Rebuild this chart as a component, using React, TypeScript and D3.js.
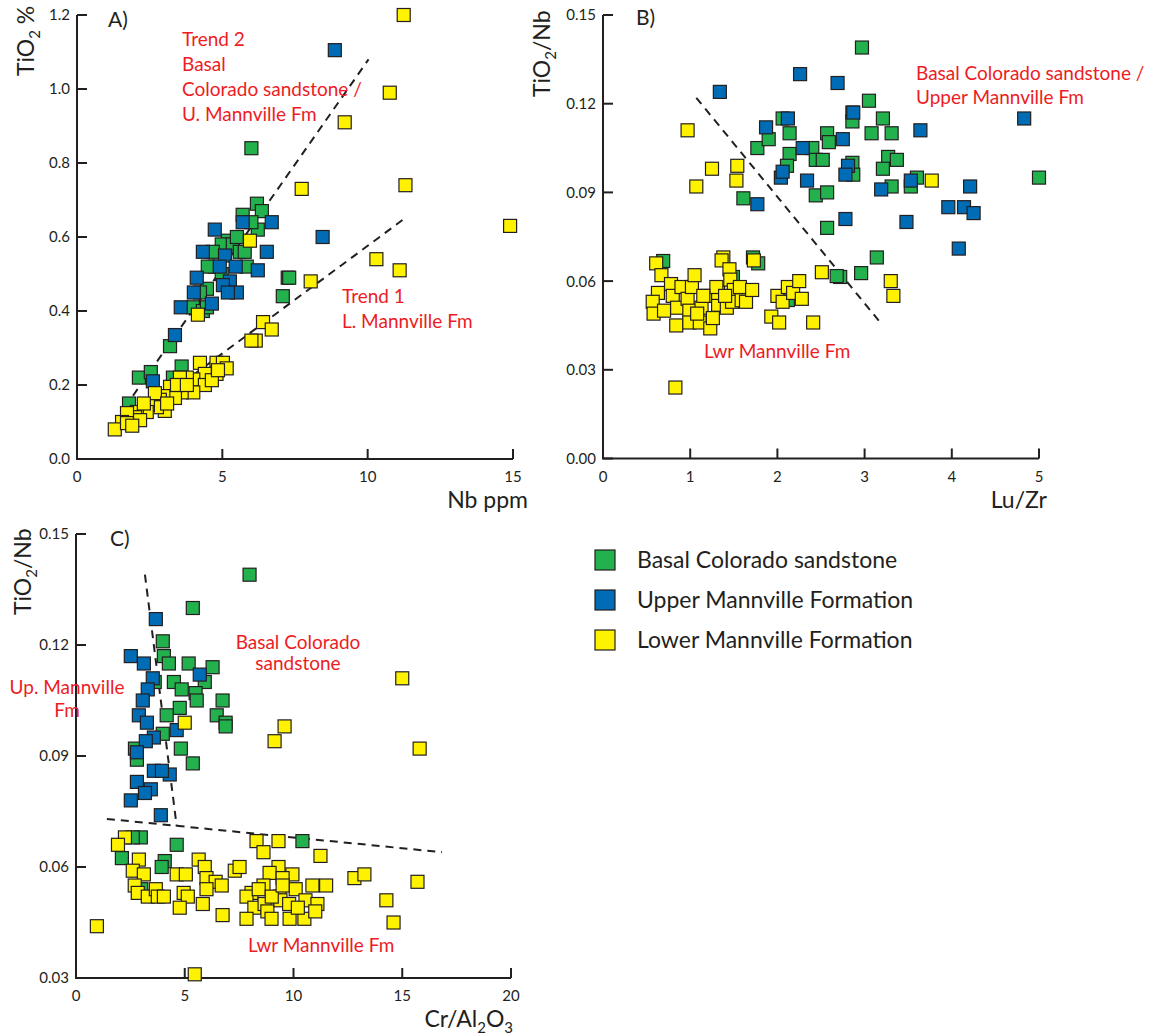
import React, { useEffect, useRef } from "react";
import * as d3 from "d3";

const GREEN = "#22b14c";
const BLUE = "#006cb5";
const YELLOW = "#fff200";
const INK = "#231f20";
const RED = "#ed1c24";
const FONT = "Lato, 'Noto Sans', sans-serif";

const seriesNames = [
  "Basal Colorado sandstone",
  "Upper Mannville Formation",
  "Lower Mannville Formation",
];
const seriesColors = [GREEN, BLUE, YELLOW];

// A) Nb ppm vs TiO2 %
const aGreen = [
  [6.0, 0.84], [6.19, 0.69], [6.36, 0.67], [5.7, 0.66], [6.22, 0.62], [5.19, 0.59],
  [4.98, 0.58], [5.36, 0.58], [4.67, 0.56], [5.6, 0.56], [5.77, 0.56], [4.74, 0.52],
  [5.84, 0.52], [4.98, 0.5], [4.47, 0.46], [7.25, 0.49], [7.3, 0.49], [7.08, 0.44],
  [3.99, 0.41], [4.33, 0.4], [3.2, 0.305], [2.13, 0.22], [2.54, 0.235], [3.6, 0.25],
  [1.79, 0.15], [5.5, 0.6], [6.0, 0.64], [4.5, 0.52], [3.3, 0.22], [4.47, 0.41],
  [4.23, 0.45],
];
const aBlue = [
  [5.7, 0.64], [6.7, 0.64], [4.74, 0.62], [4.33, 0.56], [6.53, 0.56], [5.09, 0.55],
  [4.91, 0.52], [5.46, 0.52], [6.22, 0.51], [5.26, 0.48], [4.12, 0.49], [5.02, 0.47],
  [5.5, 0.45], [5.19, 0.45], [4.02, 0.45], [4.64, 0.42], [3.57, 0.41], [3.37, 0.335],
  [2.61, 0.21], [8.87, 1.105], [8.45, 0.6],
];
const aYellow = [
  [11.24, 1.2], [10.76, 0.99], [9.21, 0.91], [11.3, 0.74], [7.73, 0.73], [14.9, 0.63],
  [5.95, 0.59], [10.3, 0.54], [11.1, 0.51], [8.04, 0.48], [6.4, 0.37], [6.7, 0.35],
  [6.15, 0.32], [6.0, 0.32], [4.16, 0.39],
  [4.23, 0.26], [4.8, 0.26], [5.02, 0.26], [5.15, 0.245], [4.8, 0.23], [4.4, 0.23],
  [4.0, 0.215], [3.78, 0.22], [3.54, 0.22], [4.4, 0.2], [4.0, 0.18], [3.6, 0.18],
  [3.2, 0.195], [3.37, 0.165], [2.97, 0.17], [2.85, 0.16], [3.02, 0.13], [2.75, 0.14],
  [2.44, 0.145], [2.4, 0.127], [2.06, 0.127], [2.0, 0.113], [1.72, 0.124], [1.55, 0.1],
  [1.3, 0.08], [1.72, 0.097], [2.17, 0.105], [3.44, 0.2], [3.78, 0.2], [4.64, 0.213],
  [4.85, 0.24], [2.68, 0.178], [1.9, 0.09], [2.3, 0.15], [3.1, 0.15],
];
const aTrend2 = [[1.65, 0.14], [10.03, 1.08]];
const aTrend1 = [[1.3, 0.07], [11.2, 0.646]];
const aXTicks = [0, 5, 10, 15];
const aYTicks = [0, 0.2, 0.4, 0.6, 0.8, 1.0, 1.2];

// B) Lu/Zr vs TiO2/Nb
const bGreen = [
  [2.97, 0.139], [1.77, 0.105], [1.9, 0.108], [2.06, 0.115], [2.14, 0.11], [2.14, 0.103],
  [2.11, 0.099], [2.4, 0.105], [2.44, 0.101], [2.52, 0.101], [2.44, 0.089], [2.57, 0.09],
  [2.57, 0.11], [2.59, 0.107], [2.57, 0.078], [1.61, 0.088], [2.86, 0.117], [2.86, 0.114],
  [2.86, 0.1], [2.87, 0.096], [3.05, 0.121], [3.21, 0.115], [3.08, 0.11], [3.31, 0.11],
  [3.27, 0.102], [3.37, 0.101], [3.21, 0.098], [3.31, 0.092], [3.6, 0.095], [3.53, 0.092],
  [5.0, 0.095], [3.14, 0.068], [2.96, 0.0627], [2.72, 0.0614], [2.68, 0.0617],
  [0.69, 0.0668], [1.72, 0.068], [1.78, 0.066], [1.49, 0.0614], [2.12, 0.0536],
];
const bBlue = [
  [1.34, 0.124], [2.26, 0.13], [2.69, 0.127], [1.77, 0.086], [1.87, 0.112], [2.12, 0.115],
  [2.04, 0.095], [2.06, 0.097], [2.29, 0.105], [2.34, 0.094], [2.75, 0.108], [2.78, 0.081],
  [2.87, 0.117], [2.81, 0.099], [2.78, 0.096], [3.64, 0.111], [3.19, 0.091], [3.53, 0.094],
  [4.21, 0.092], [3.96, 0.085], [4.14, 0.085], [4.25, 0.083], [3.48, 0.08], [4.08, 0.071],
  [4.83, 0.115],
];
const bYellow = [
  [0.97, 0.111], [1.25, 0.098], [1.07, 0.092], [1.54, 0.099], [1.53, 0.094], [3.77, 0.094],
  [3.3, 0.06], [3.33, 0.055], [2.51, 0.063], [0.83, 0.024],
  [0.61, 0.066], [0.67, 0.062], [0.78, 0.059], [0.63, 0.056], [0.57, 0.053], [0.58, 0.049],
  [0.7, 0.05], [0.8, 0.055], [0.85, 0.051], [0.84, 0.045], [0.9, 0.058], [0.97, 0.054],
  [1.02, 0.058], [1.05, 0.062], [0.99, 0.05], [0.99, 0.046], [1.11, 0.046], [1.13, 0.051],
  [1.19, 0.055], [1.23, 0.044], [1.26, 0.0475], [1.32, 0.052], [1.32, 0.056], [1.3, 0.058],
  [1.38, 0.068], [1.36, 0.067], [1.45, 0.064], [1.46, 0.0605], [1.5, 0.057], [1.42, 0.051],
  [1.48, 0.053], [1.57, 0.058], [1.59, 0.0535], [1.64, 0.053], [1.71, 0.057], [1.73, 0.067],
  [2.0, 0.055], [2.06, 0.053], [2.12, 0.058], [2.18, 0.056], [2.25, 0.06], [2.28, 0.054],
  [1.93, 0.048], [2.02, 0.046], [2.41, 0.046], [1.15, 0.055], [1.08, 0.049], [1.4, 0.055],
];
const bDivide = [[1.07, 0.122], [3.18, 0.046]];
const bXTicks = [0, 1, 2, 3, 4, 5];
const bYTicks = [0, 0.03, 0.06, 0.09, 0.12, 0.15];

// C) Cr/Al2O3 vs TiO2/Nb
const cGreen = [
  [7.98, 0.139], [5.37, 0.13], [3.99, 0.121], [4.04, 0.117], [4.27, 0.115], [5.18, 0.115],
  [6.28, 0.114], [5.92, 0.11], [4.5, 0.11], [4.86, 0.108], [5.5, 0.107], [5.55, 0.105],
  [6.74, 0.105], [4.77, 0.103], [4.17, 0.101], [6.47, 0.101], [6.88, 0.099], [6.88, 0.098],
  [3.99, 0.096], [2.71, 0.092], [4.82, 0.092], [5.37, 0.088], [2.8, 0.089], [2.98, 0.068],
  [2.61, 0.068], [4.63, 0.066], [2.11, 0.0624], [4.08, 0.0616], [3.94, 0.06], [10.41, 0.067],
  [3.0, 0.054], [3.62, 0.11],
];
const cBlue = [
  [3.67, 0.127], [2.52, 0.117], [3.12, 0.115], [5.69, 0.112], [3.53, 0.111], [3.3, 0.108],
  [3.07, 0.105], [2.89, 0.101], [3.26, 0.099], [4.63, 0.097], [3.58, 0.095], [3.21, 0.094],
  [2.8, 0.091], [3.58, 0.086], [4.31, 0.085], [2.8, 0.083], [3.44, 0.081], [3.17, 0.08],
  [2.52, 0.078], [3.9, 0.074], [3.95, 0.086],
];
const cYellow = [
  [5.0, 0.099], [9.13, 0.094], [9.59, 0.098], [15.0, 0.111], [15.8, 0.092],
  [2.25, 0.068], [1.93, 0.066], [2.89, 0.062], [2.61, 0.059], [3.12, 0.058], [4.63, 0.058],
  [5.05, 0.058], [5.64, 0.062], [5.92, 0.06], [6.0, 0.057], [6.42, 0.056], [6.7, 0.055],
  [6.0, 0.054], [2.7, 0.055], [2.84, 0.053], [3.3, 0.052], [3.67, 0.054], [3.76, 0.052],
  [4.04, 0.052], [4.95, 0.053], [5.14, 0.052], [5.83, 0.05], [4.77, 0.049], [6.74, 0.047],
  [7.3, 0.059], [7.52, 0.06], [8.3, 0.067], [8.62, 0.064], [9.31, 0.067], [11.24, 0.063],
  [9.31, 0.06], [8.9, 0.0584], [9.95, 0.058], [9.5, 0.057], [8.62, 0.055], [8.07, 0.053],
  [7.84, 0.052], [8.4, 0.054], [8.2, 0.049], [8.67, 0.05], [8.8, 0.048], [9.36, 0.052],
  [9.4, 0.051], [10.1, 0.054], [10.55, 0.051], [11.1, 0.05], [11.5, 0.055], [10.87, 0.055],
  [7.84, 0.046], [8.99, 0.046], [9.82, 0.046], [10.5, 0.046], [11.0, 0.048], [0.96, 0.044],
  [5.46, 0.031], [12.8, 0.057], [13.26, 0.058], [15.7, 0.056], [14.27, 0.051], [14.6, 0.045],
  [9.0, 0.052], [9.8, 0.05], [10.2, 0.049], [9.5, 0.055],
];
const cDivideV = [[3.17, 0.139], [4.63, 0.071]];
const cDivideH = [[1.42, 0.073], [16.83, 0.064]];
const cXTicks = [0, 5, 10, 15, 20];
const cYTicks = [0.03, 0.06, 0.09, 0.12, 0.15];

const drawPanel = (svg, p) => {
  const x = d3.scaleLinear().domain(p.xDomain).range(p.xRange);
  const y = d3.scaleLinear().domain(p.yDomain).range(p.yRange);
  const g = svg.append("g");
  const [x0, x1] = p.xRange;
  const [y0, y1] = p.yRange;

  g.append("path")
    .attr("d", `M${x0},${y1}V${y0}H${x1}`)
    .attr("fill", "none")
    .attr("stroke", INK)
    .attr("stroke-width", 2);

  g.selectAll(".yt")
    .data(p.yTicks)
    .enter()
    .append("line")
    .attr("x1", x0)
    .attr("x2", x0 + 10)
    .attr("y1", (d) => y(d))
    .attr("y2", (d) => y(d))
    .attr("stroke", INK)
    .attr("stroke-width", 2);
  g.selectAll(".ytl")
    .data(p.yTicks)
    .enter()
    .append("text")
    .attr("x", x0 - 7)
    .attr("y", (d) => y(d))
    .attr("dy", "0.36em")
    .attr("text-anchor", "end")
    .style("font-family", FONT)
    .style("font-size", "15px")
    .attr("fill", INK)
    .text((d) => d3.format(p.yFormat)(d));

  g.selectAll(".xt")
    .data(p.xTicks)
    .enter()
    .append("line")
    .attr("x1", (d) => x(d))
    .attr("x2", (d) => x(d))
    .attr("y1", y0)
    .attr("y2", y0 - 10)
    .attr("stroke", INK)
    .attr("stroke-width", 2);
  g.selectAll(".xtl")
    .data(p.xTicks)
    .enter()
    .append("text")
    .attr("x", (d) => x(d))
    .attr("y", y0 + 23)
    .attr("text-anchor", "middle")
    .style("font-family", FONT)
    .style("font-size", "15px")
    .attr("fill", INK)
    .text((d) => d);

  const line = d3
    .line()
    .x((d) => x(d[0]))
    .y((d) => y(d[1]));
  p.lines.forEach((l) => {
    g.append("path")
      .datum(l)
      .attr("d", line)
      .attr("fill", "none")
      .attr("stroke", INK)
      .attr("stroke-width", 2)
      .attr("stroke-dasharray", "8,6");
  });

  const s = 13;
  p.series.forEach((pts, i) => {
    g.append("g")
      .selectAll("rect")
      .data(pts)
      .enter()
      .append("rect")
      .attr("x", (d) => x(d[0]) - s / 2)
      .attr("y", (d) => y(d[1]) - s / 2)
      .attr("width", s)
      .attr("height", s)
      .attr("fill", seriesColors[i])
      .attr("stroke", INK)
      .attr("stroke-width", 1.2);
  });

  g.append("text")
    .attr("x", p.letter[1])
    .attr("y", p.letter[2])
    .style("font-family", FONT)
    .style("font-size", "21px")
    .attr("fill", INK)
    .text(p.letter[0]);

  // y axis title, rotated
  const yt = g
    .append("text")
    .attr("transform", `translate(${p.yTitlePos[0]},${p.yTitlePos[1]}) rotate(-90)`)
    .style("font-family", FONT)
    .style("font-size", "23px")
    .attr("fill", INK);
  yt.append("tspan").text("TiO");
  yt.append("tspan").attr("dy", 6).style("font-size", "15px").text("2");
  yt.append("tspan").attr("dy", -6).text(p.yTitleRest);

  const xt = g
    .append("text")
    .attr("x", p.xTitlePos[0])
    .attr("y", p.xTitlePos[1])
    .attr("text-anchor", "end")
    .style("font-family", FONT)
    .style("font-size", "23px")
    .attr("fill", INK);
  p.xTitle.forEach((part) => {
    const t = xt.append("tspan").text(part[0]);
    if (part[1]) t.attr("dy", part[1]);
    if (part[2]) t.style("font-size", part[2]);
  });

  p.notes.forEach((n) => {
    n.lines.forEach((txt, k) => {
      g.append("text")
        .attr("x", n.x)
        .attr("y", n.y + k * n.step)
        .attr("text-anchor", n.anchor || "start")
        .style("font-family", FONT)
        .style("font-size", "19px")
        .attr("fill", RED)
        .text(txt);
    });
  });
};

const App = () => {
  const ref = useRef(null);

  useEffect(() => {
    const svg = d3.select(ref.current);
    svg.selectAll("*").remove();

    drawPanel(svg, {
      xDomain: [0, 15],
      xRange: [77, 513],
      yDomain: [0, 1.2],
      yRange: [459, 15],
      xTicks: aXTicks,
      yTicks: aYTicks,
      yFormat: ".1f",
      series: [aGreen, aBlue, aYellow],
      lines: [aTrend2, aTrend1],
      letter: ["A)", 108, 27],
      yTitlePos: [34, 76],
      yTitleRest: " %",
      xTitle: [["Nb ppm"]],
      xTitlePos: [528, 508],
      notes: [
        { x: 182, y: 46, step: 25, lines: ["Trend 2", "Basal", "Colorado sandstone /", "U. Mannville Fm"] },
        { x: 342, y: 303, step: 25, lines: ["Trend 1", "L. Mannville Fm"] },
      ],
    });

    drawPanel(svg, {
      xDomain: [0, 5],
      xRange: [603, 1039],
      yDomain: [0, 0.15],
      yRange: [458.5, 15],
      xTicks: bXTicks,
      yTicks: bYTicks,
      yFormat: ".2f",
      series: [bGreen, bBlue, bYellow],
      lines: [bDivide],
      letter: ["B)", 636, 25],
      yTitlePos: [550, 97],
      yTitleRest: "/Nb",
      xTitle: [["Lu/Zr"]],
      xTitlePos: [1047, 508],
      notes: [
        { x: 916, y: 80, step: 24, lines: ["Basal Colorado sandstone /", "Upper Mannville Fm"] },
        { x: 704, y: 358, step: 24, lines: ["Lwr Mannville Fm"] },
      ],
    });

    drawPanel(svg, {
      xDomain: [0, 20],
      xRange: [76, 511],
      yDomain: [0.03, 0.15],
      yRange: [978, 534],
      xTicks: cXTicks,
      yTicks: cYTicks,
      yFormat: ".2f",
      series: [cGreen, cBlue, cYellow],
      lines: [cDivideV, cDivideH],
      letter: ["C)", 110, 546],
      yTitlePos: [31, 615],
      yTitleRest: "/Nb",
      xTitle: [["Cr/Al"], ["2", 6, "15px"], ["O", -6], ["3", 6, "15px"]],
      xTitlePos: [513, 1027],
      notes: [
        { x: 298, y: 649, step: 21, anchor: "middle", lines: ["Basal Colorado", "sandstone"] },
        { x: 67, y: 694, step: 23, anchor: "middle", lines: ["Up. Mannville", "Fm"] },
        { x: 248, y: 952, step: 24, lines: ["Lwr Mannville Fm"] },
      ],
    });

    const legend = svg.append("g").attr("transform", "translate(595, 550)");
    seriesNames.forEach((name, i) => {
      const row = legend.append("g").attr("transform", `translate(0, ${i * 40})`);
      row
        .append("rect")
        .attr("width", 20)
        .attr("height", 20)
        .attr("fill", seriesColors[i])
        .attr("stroke", INK)
        .attr("stroke-width", 1.2);
      row
        .append("text")
        .attr("x", 42)
        .attr("y", 18)
        .style("font-family", FONT)
        .style("font-size", "23px")
        .attr("fill", INK)
        .text(name);
    });
  }, []);

  return (
    <svg
      ref={ref}
      width={1149}
      height={1036}
      style={{ position: "absolute", left: 0, top: 0, background: "#fff" }}
    />
  );
};

export default App;
